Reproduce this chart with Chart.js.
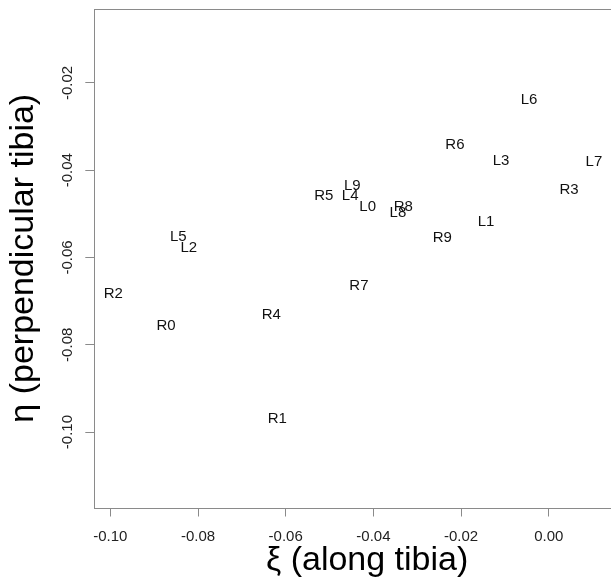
<!DOCTYPE html>
<html>
<head>
<meta charset="utf-8">
<script src="https://cdn.jsdelivr.net/npm/chart.js@4"></script>
<style>
  html, body { margin: 0; padding: 0; background: #fff; overflow: hidden; }
  #wrap { width: 640px; height: 581px; }
</style>
</head>
<body>
<div id="wrap"><canvas id="tibiaChart" width="640" height="581"></canvas></div>
<script>
// point names and coordinates
const pointLabels = ['L0', 'L1', 'L2', 'L3', 'L4', 'L5', 'L6', 'L7', 'L8', 'L9',
                     'R0', 'R1', 'R2', 'R3', 'R4', 'R5', 'R6', 'R7', 'R8', 'R9'];
const xiValues = [-0.0413, -0.0143, -0.0821, -0.0109, -0.0453, -0.0845, -0.0045, 0.0103, -0.0344, -0.0448,
                  -0.0873, -0.0619, -0.0993, 0.0046, -0.0633, -0.0513, -0.0214, -0.0433, -0.0332, -0.0243];
const etaValues = [-0.0485, -0.0519, -0.0579, -0.0379, -0.0459, -0.0553, -0.0238, -0.0380, -0.0497, -0.0436,
                   -0.0756, -0.0970, -0.0684, -0.0445, -0.0732, -0.0458, -0.0341, -0.0666, -0.0484, -0.0555];

const xTicks = [-0.10, -0.08, -0.06, -0.04, -0.02, 0.00];
const yTicks = [-0.10, -0.08, -0.06, -0.04, -0.02];

const FONT = '"Liberation Sans", Arial, sans-serif';
const AXIS_GREY = '#8a8a8a';

// R-style box around the plot region
const boxPlugin = {
    id: 'plotBox',
    afterDraw(chart) {
        const { ctx, chartArea: a } = chart;
        ctx.save();
        ctx.strokeStyle = AXIS_GREY;
        ctx.lineWidth = 1;
        ctx.strokeRect(Math.round(a.left) + 0.5, Math.round(a.top) + 0.5,
                       Math.round(a.right - a.left), Math.round(a.bottom - a.top));
        ctx.restore();
    }
};

// draw each name as the marker, centred on its point
const textMarkers = {
    id: 'textMarkers',
    afterDatasetsDraw(chart) {
        const { ctx } = chart;
        const meta = chart.getDatasetMeta(0);
        ctx.save();
        ctx.font = '15px ' + FONT;
        ctx.fillStyle = '#111';
        ctx.textAlign = 'center';
        ctx.textBaseline = 'middle';
        meta.data.forEach((pt, i) => {
            ctx.fillText(pointLabels[i], pt.x, pt.y);
        });
        ctx.restore();
    }
};

const points = xiValues.map((x, i) => ({ x: x, y: etaValues[i] }));

new Chart(document.getElementById('tibiaChart'), {
    type: 'scatter',
    data: {
        datasets: [{
            data: points,
            pointRadius: 0,
            pointHoverRadius: 0
        }]
    },
    options: {
        responsive: false,
        animation: false,
        events: [],
        layout: { padding: { top: 7, right: 0, bottom: 0, left: 0 } },
        plugins: {
            legend: { display: false },
            tooltip: { enabled: false }
        },
        scales: {
            x: {
                type: 'linear',
                min: -0.10365,
                max: 0.0208,
                afterBuildTicks: scale => { scale.ticks = xTicks.map(v => ({ value: v })); },
                afterFit: scale => { scale.height = 73.5; },
                border: { display: false },
                grid: { drawOnChartArea: false, drawTicks: true, tickLength: 9, color: AXIS_GREY },
                ticks: {
                    padding: 11,
                    color: '#222',
                    font: { family: FONT, size: 15 },
                    maxRotation: 0,
                    callback: v => v.toFixed(2)
                },
                title: {
                    display: true,
                    text: 'ξ (along tibia)',
                    color: '#000',
                    font: { family: FONT, size: 34 },
                    padding: { top: 0, bottom: 0 }
                }
            },
            y: {
                type: 'linear',
                min: -0.11729,
                max: -0.00305,
                afterBuildTicks: scale => { scale.ticks = yTicks.map(v => ({ value: v })); },
                afterFit: scale => { scale.width = 94.3; },
                border: { display: false },
                grid: { drawOnChartArea: false, drawTicks: true, tickLength: 9, color: AXIS_GREY },
                ticks: {
                    padding: 0,
                    color: '#222',
                    font: { family: FONT, size: 15 },
                    minRotation: 90,
                    maxRotation: 90,
                    crossAlign: 'center',
                    callback: v => v.toFixed(2)
                },
                title: {
                    display: true,
                    text: 'η (perpendicular tibia)',
                    color: '#000',
                    font: { family: FONT, size: 34 },
                    padding: { top: 3, bottom: 0 }
                }
            }
        }
    },
    plugins: [boxPlugin, textMarkers]
});
</script>
</body>
</html>
